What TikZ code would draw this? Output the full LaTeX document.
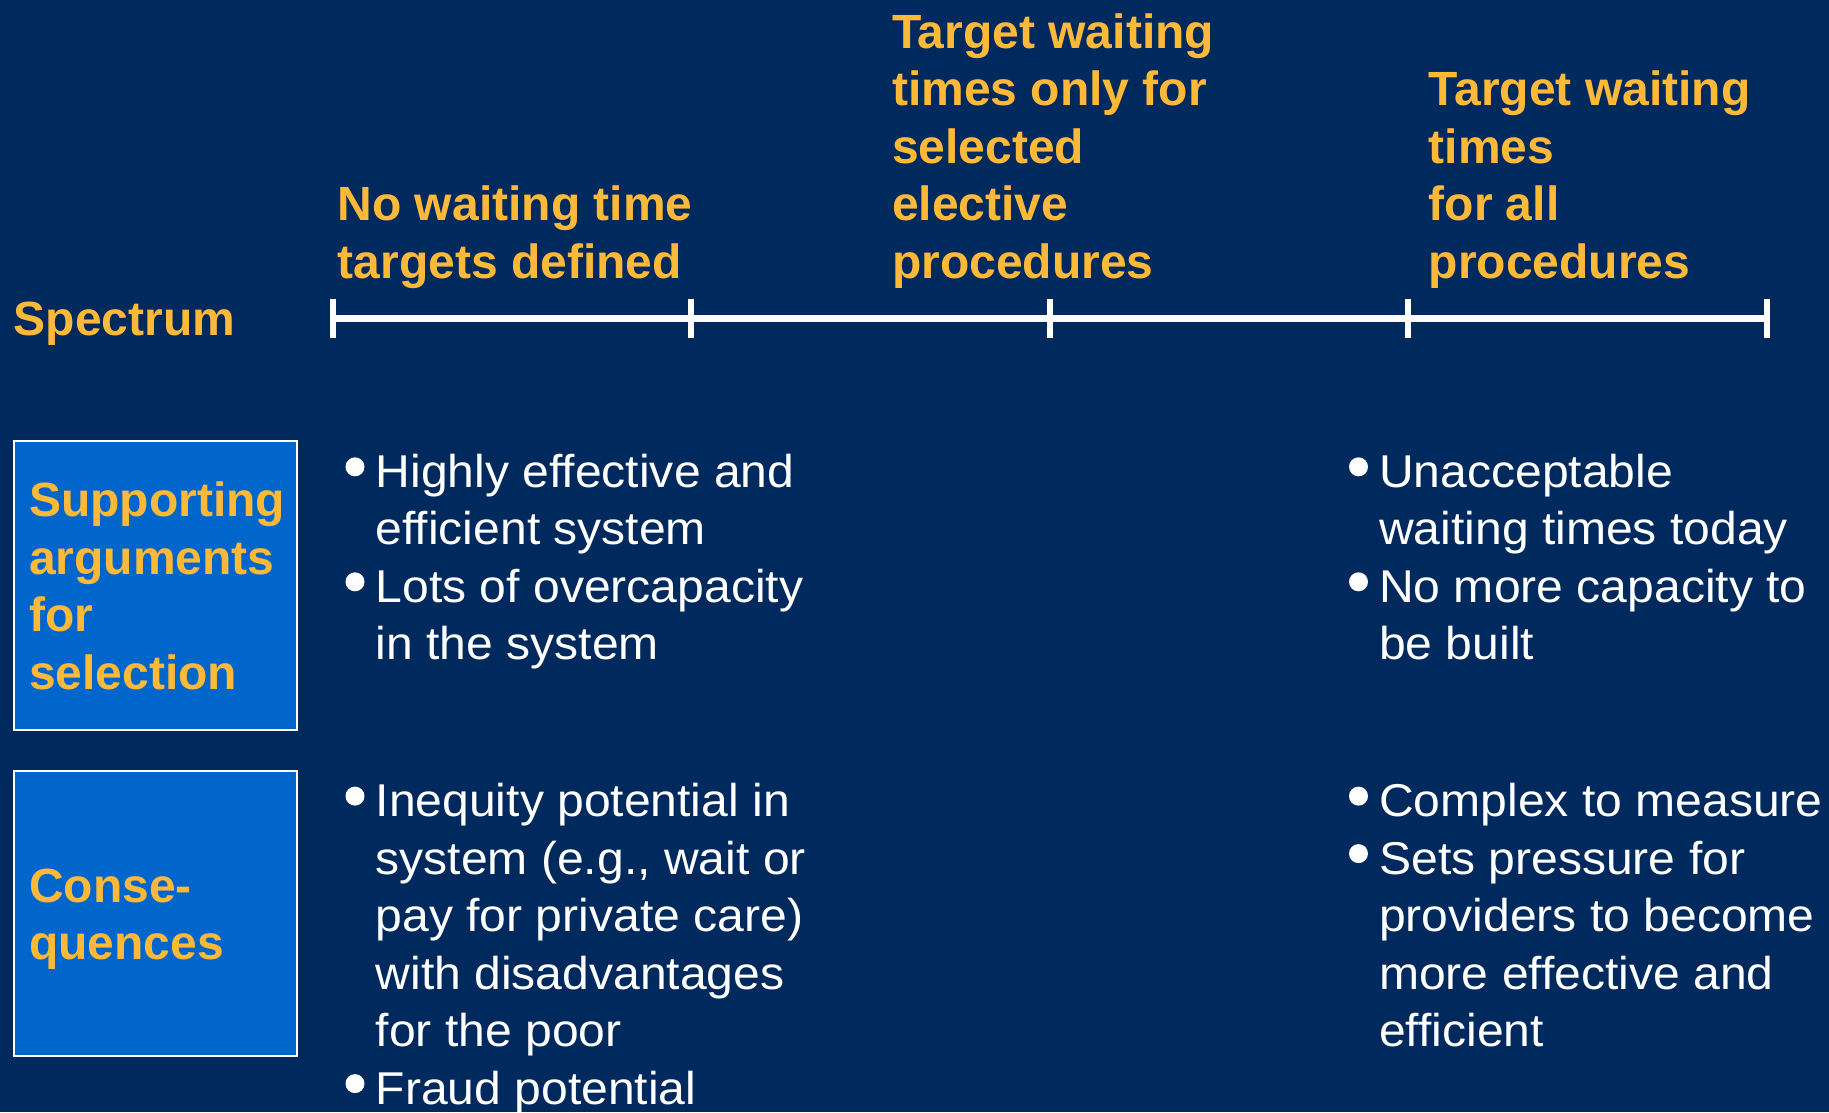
\documentclass[tikz,border=0pt]{standalone}
\usepackage{fontspec}
\setmainfont{Liberation Sans}
\newfontfamily\widesans[FakeStretch=1.045]{Liberation Sans}
\usetikzlibrary{positioning,calc}

\definecolor{spnavy}{RGB}{0,41,94}
\definecolor{spblue}{RGB}{0,102,204}
\definecolor{spyellow}{RGB}{255,185,56}
\newcommand{\headfont}{\bfseries\fontsize{48}{57.5}\selectfont}
\newcommand{\bodyfont}{\widesans\fontsize{46}{57.5}\selectfont}

\begin{document}
\begin{tikzpicture}[x=1pt,y=-1pt,
    head/.style={anchor=north west,inner sep=0pt,align=left,text=spyellow,font=\headfont},
    body/.style={anchor=north west,inner sep=0pt,align=left,text=white,font=\bodyfont},
    catbox/.style={draw=white,line width=2pt,fill=spblue,anchor=north west,inner sep=0pt,minimum width=282.8pt},
    catlabel/.style={anchor=west,inner sep=0pt,align=left,text=spyellow,font=\headfont},
    specline/.style={white,line width=7pt},
    spectick/.style={white,line width=6pt}]
      \useasboundingbox (0,0) rectangle (1829,1112);
      \fill[spnavy] (0,0) rectangle (1829,1112);

      % spectrum axis
      \node[head,anchor=base west](spec) at (13.6,335){Spectrum};
      \foreach \i in {0,...,4}
        \coordinate (t\i) at ({332.5+358.6*\i},318.2);
      \draw[specline] (t0) -- (t4);
      \foreach \i in {0,...,4}
        \draw[spectick] ($(t\i)+(0,-19.7)$) -- ($(t\i)+(0,19.7)$);

      \node[head](hnone) at (337.5,185.7){No waiting time\\targets defined};
      \node[head](hsel) at (892,13.2){Target waiting\\times only for\\selected\\elective\\procedures};
      \node[head](hall) at (1428.5,70.7){Target waiting\\times\\for all\\procedures};

      % row boxes
      \node[catbox,minimum height=289.4pt](supbox) at (12.7,440){};
      \node[catlabel](suptext) at ($(supbox.west)+(16.3,0)$){Supporting\\arguments\\for\\selection};
      \node[catbox,minimum height=285.5pt](conbox) at (12.7,769.5){};
      \node[catlabel](context) at ($(conbox.west)+(16.3,6)$){Conse-\\quences};

      % bullet texts
      \node[body](supL) at (375.5,453.8){Highly effective and\\efficient system\\Lots of overcapacity\\in the system};
      \node[body](supR) at (1379,453.8){Unacceptable\\waiting times today\\No more capacity to\\be built};
      \node[body](conL) at (375.5,783.1){Inequity potential in\\system (e.g., wait or\\pay for private care)\\with disadvantages\\for the poor\\Fraud potential};
      \node[body](conR) at (1379,783.1){Complex to measure\\Sets pressure for\\providers to become\\more effective and\\efficient};

      \foreach \blk/\k in {supL/0,supL/2,supR/0,supR/2,conL/0,conL/5,conR/0,conR/1}
        \fill[white] ($(\blk.north west)+(-20.5,{13+57.5*\k})$) circle (9.5pt);
    \end{tikzpicture}
\end{document}
